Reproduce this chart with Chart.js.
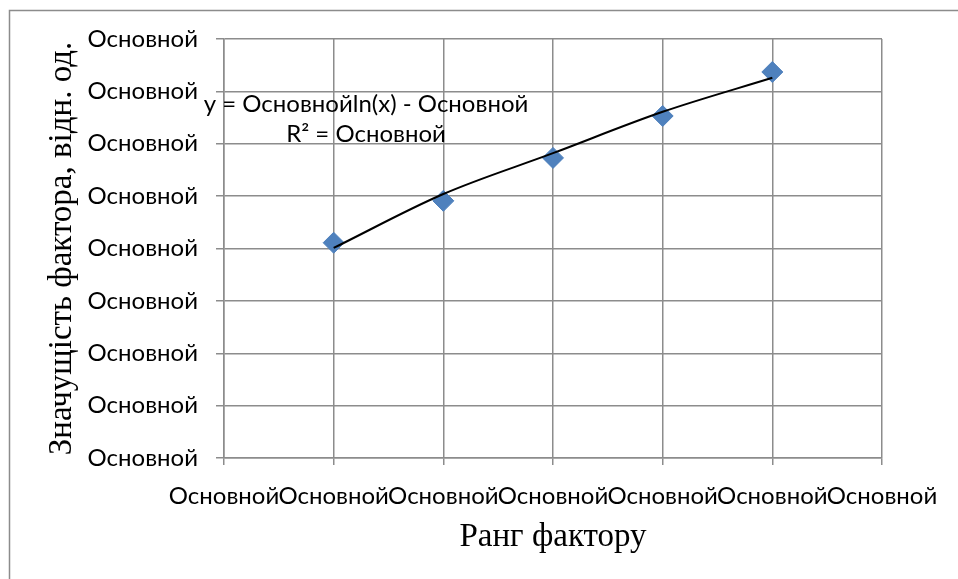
<!DOCTYPE html>
<html lang="uk">

<head>
    <meta charset="UTF-8">
    <title>Значущість фактора</title>
    <style>
        body {
            margin: 0;
            background: #fff;
        }
    </style>
    <script src="https://cdn.jsdelivr.net/npm/chart.js@4.4.1/dist/chart.umd.min.js"></script>
</head>

<body>
    <canvas id="grafica" width="958" height="579"></canvas>
    <script>
        // ранги факторів і значущість
        const ranks = [1, 2, 3, 4, 5];
        const significance = [4.11, 4.91, 5.73, 6.53, 7.37];
        // лінія логарифмічного тренду, точки
        const trendRanks = [1, 2, 3, 4, 5];
        const trendValues = [4.01, 5.04, 5.82, 6.61, 7.26];
        // підписи (в оригіналі Excel показує "Основной" замість чисел)
        const tickLabel = 'Основной';
        const equationLines = ['y = Основнойln(x) - Основной', 'R² = Основной'];

        const calibriLike = { family: 'Lato', size: 24 };
        const serif = { family: 'Liberation Serif', size: 33 };
        const gridColor = '#8c8c8c';

        Chart.defaults.color = '#000';

        // рамка навколо діаграми + підпис рівняння тренду
        const extras = {
            id: 'extras',
            beforeDraw(chart) {
                const ctx = chart.ctx;
                ctx.save();
                ctx.fillStyle = '#fff';
                ctx.fillRect(0, 0, chart.width, chart.height);
                ctx.strokeStyle = '#8c8c8c';
                ctx.lineWidth = 1.5;
                ctx.strokeRect(9.5, 10.5, chart.width + 20, chart.height + 20);
                ctx.restore();
            },
            afterDraw(chart) {
                const ctx = chart.ctx;
                const x = chart.scales.x.getPixelForValue(1.295);
                const y = chart.scales.y.getPixelForValue(6.76);
                ctx.save();
                ctx.font = calibriLike.size + 'px ' + calibriLike.family;
                ctx.fillStyle = '#000';
                ctx.textAlign = 'center';
                ctx.textBaseline = 'middle';
                equationLines.forEach((t, i) => ctx.fillText(t, x, y + i * 30));
                ctx.restore();
            }
        };

        const $grafica = document.querySelector('#grafica');
        new Chart($grafica, {
            type: 'scatter',
            data: {
                datasets: [
                    {
                        data: ranks.map((r, i) => ({ x: r, y: significance[i] })),
                        pointStyle: 'rectRot',
                        pointRadius: 10.5,
                        pointHoverRadius: 10.5,
                        backgroundColor: '#4f81bd',
                        borderColor: '#4f81bd',
                        borderWidth: 1,
                        showLine: false,
                        order: 2
                    },
                    {
                        data: trendRanks.map((r, i) => ({ x: r, y: trendValues[i] })),
                        showLine: true,
                        borderColor: '#000',
                        borderWidth: 2,
                        pointRadius: 0,
                        cubicInterpolationMode: 'monotone',
                        order: 1
                    }
                ]
            },
            options: {
                responsive: false,
                animation: false,
                layout: { padding: { top: 39, right: 76, left: 0, bottom: 0 } },
                plugins: { legend: { display: false }, tooltip: { enabled: false } },
                scales: {
                    x: {
                        type: 'linear',
                        min: 0,
                        max: 6,
                        afterFit: s => { s.height = 121; },
                        ticks: {
                            stepSize: 1,
                            autoSkip: false,
                            maxRotation: 0,
                            minRotation: 0,
                            padding: 17,
                            font: calibriLike,
                            callback: () => tickLabel
                        },
                        grid: { color: gridColor, lineWidth: 1.5, tickLength: 7 },
                        border: { color: gridColor, width: 1.5 },
                        title: {
                            display: true,
                            text: 'Ранг фактору',
                            font: serif,
                            padding: { top: 0, bottom: 22 }
                        }
                    },
                    y: {
                        min: 0,
                        max: 8,
                        afterFit: s => { s.width = 224; },
                        ticks: {
                            stepSize: 1,
                            padding: 18,
                            font: calibriLike,
                            callback: () => tickLabel
                        },
                        grid: { color: gridColor, lineWidth: 1.5, tickLength: 8 },
                        border: { color: gridColor, width: 1.5 },
                        title: {
                            display: true,
                            text: 'Значущість фактора, відн. од.',
                            font: serif,
                            padding: { top: 43, bottom: 0 }
                        }
                    }
                }
            },
            plugins: [extras]
        });
    </script>
</body>

</html>
